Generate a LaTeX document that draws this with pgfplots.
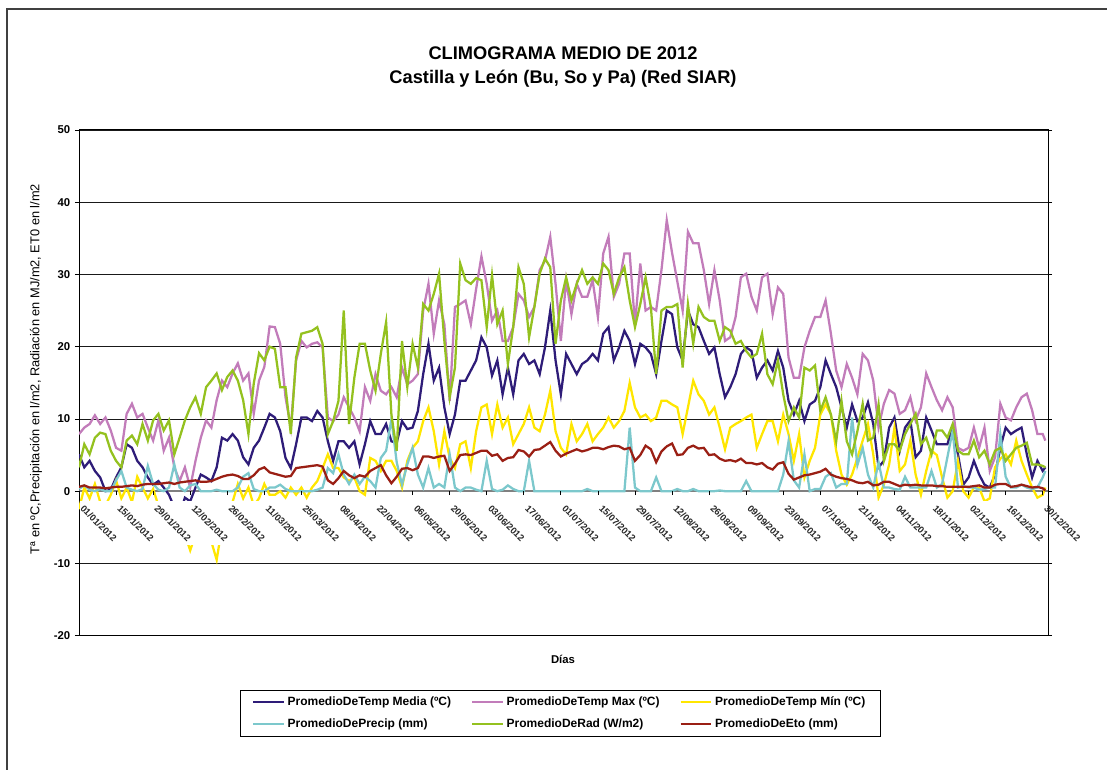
\documentclass[border=0pt]{standalone}
\usepackage{fontspec}
\setmainfont{Liberation Sans}
\usepackage{pgfplots}
\pgfplotsset{compat=1.18}
\usepackage{pgfplotstable}
\definecolor{cmed}{HTML}{2E1C78}
\definecolor{cmax}{HTML}{C27CBA}
\definecolor{cmin}{HTML}{FFE600}
\definecolor{cpre}{HTML}{7CC8CC}
\definecolor{crad}{HTML}{94C11F}
\definecolor{ceto}{HTML}{9A1F14}

% day of 2012 (0 = 01/01), read every second day off the original chart
\pgfplotstableread{
d tmed tmax tmin prec rad eto
0 5.1 7.9 -2.5 0.3 3.3 0.6
2 3.3 8.8 0.5 0.8 6.5 0.8
4 4.2 9.3 -1.0 0.2 5.1 0.5
6 2.8 10.5 1.0 0 7.4 0.5
8 1.9 9.3 -1.5 0.3 8.1 0.5
10 0.0 10.2 -2.0 0 7.9 0.4
12 0.2 8.4 -0.5 0 5.6 0.5
14 1.9 6.0 1.5 1.5 4.2 0.6
16 3.3 5.6 -1.0 2.8 3.3 0.6
18 6.5 10.7 0.5 0.5 7.0 0.7
20 6.0 12.1 -1.5 0.2 7.7 0.8
22 4.2 10.2 2.0 0 6.5 0.7
24 3.3 10.7 0.5 0.3 9.3 0.9
26 1.9 8.8 -1.0 3.5 7.0 1.0
28 0.9 7.0 0.3 1.0 9.8 1.0
30 1.4 9.8 -2.0 0.2 10.7 1.0
32 0.5 5.6 -3.0 0 8.4 1.1
34 -0.5 7.4 -5.0 0.5 9.8 1.2
36 -2.3 3.3 -6.0 3.7 5.1 1.0
38 -3.3 1.4 -7.0 0.5 7.4 1.2
40 -0.9 3.3 -6.0 0 9.8 1.3
42 -1.4 0.5 -8.2 0.8 11.6 1.4
44 0.5 4.2 -6.0 1.0 13.0 1.5
46 2.3 7.4 -4.0 0 10.7 1.3
48 1.9 9.8 -5.0 0 14.4 1.3
50 1.4 8.8 -7.0 0 15.3 1.4
52 3.3 12.6 -9.5 0.2 16.3 1.7
54 7.4 15.3 -5.0 0 14.0 2.0
56 7.0 14.4 -3.0 0 15.8 2.2
58 7.9 16.3 -1.5 0 16.7 2.3
60 7.0 17.7 1.0 0.5 15.3 2.1
62 4.7 15.3 -1.0 2.0 12.6 1.7
64 3.7 16.3 0.5 2.5 7.9 1.7
66 6.0 10.7 -2.0 0.3 14.9 2.2
68 7.0 15.3 -1.0 0 19.1 3.0
70 8.8 17.2 1.0 0 18.1 3.3
72 10.7 22.8 -0.5 0.5 20.0 2.6
74 10.2 22.7 -0.5 0.5 19.7 2.4
76 8.3 20.4 0 0.9 14.4 2.2
78 4.6 13.0 -0.9 0.3 14.4 2.0
80 3.2 8.8 0.5 0 7.9 2.1
82 6.5 18.1 -0.5 0 18.5 3.2
84 10.2 20.8 0.5 0 21.8 3.3
86 10.2 19.9 -0.9 0 22.0 3.4
88 9.7 20.4 0.5 0 22.2 3.5
90 11.1 20.6 1.4 0.2 22.7 3.6
92 10.2 19.9 3.2 0.5 20.4 3.4
94 6.9 10.2 5.1 3.2 7.9 1.5
96 4.2 9.7 3.2 2.5 9.7 1.0
98 6.9 10.6 3.2 5.1 12.5 1.8
100 6.9 13.0 1.9 2.3 25.0 2.8
102 6.0 11.6 1.4 1.0 9.3 2.2
104 6.9 10.2 1.9 2.3 15.7 1.8
106 3.7 8.3 0 1.0 20.4 2.2
108 6.5 14.4 -0.5 2.0 20.4 2.0
110 9.7 12.5 4.6 1.4 16.7 2.8
112 7.9 16.2 4.2 0.5 13.9 3.2
114 7.9 13.9 2.8 4.6 19.0 3.6
116 9.3 13.4 4.2 5.6 23.4 2.2
118 6.9 14.4 4.2 10.0 10.6 1.1
120 6.7 13.0 2.8 4.0 5.6 2.0
122 9.7 17.1 0.5 0.9 20.8 3.1
124 8.6 14.8 4.2 3.7 14.4 3.2
126 8.8 15.3 6.0 6.0 20.4 2.9
128 11.1 16.2 6.9 2.3 17.1 3.2
130 16.2 25.0 9.7 0.5 25.9 4.8
132 20.4 28.7 11.6 3.2 25.0 4.8
134 15.3 21.8 8.3 0.5 27.3 4.6
136 17.1 26.4 3.7 1.0 30.1 4.8
138 11.6 23.1 8.3 0.5 20.8 4.9
140 7.9 12.5 4.6 5.1 13.0 2.8
142 10.6 25.5 3.2 0.5 17.1 3.8
144 15.3 25.9 6.5 0 31.5 5.0
146 15.3 26.4 6.9 0.5 29.2 5.1
148 16.7 23.1 3.2 0.5 28.7 5.0
150 18.1 28.0 8.3 0.2 29.5 5.3
152 21.3 32.5 11.6 0 29.2 5.6
154 19.9 28.7 12.0 4.2 22.7 5.6
156 16.0 23.6 7.9 0.3 29.9 4.9
158 18.1 25.0 12.0 0 23.1 5.1
160 13.4 20.8 8.8 0.2 25.0 4.2
162 17.1 20.8 10.2 0.8 17.6 4.6
164 13.4 22.7 6.5 0.3 22.7 4.7
166 18.1 27.3 7.9 0 31.0 5.7
168 19.0 26.4 9.3 0 28.7 5.5
170 17.6 24.1 11.6 4.2 21.3 4.8
172 18.1 25.5 8.8 0 25.5 5.7
174 16.2 30.6 8.3 0 30.1 5.8
176 19.9 31.9 10.6 0 32.2 6.3
178 25.0 35.2 13.9 0 31.0 6.8
180 18.1 28.7 8.3 0 20.4 5.6
182 13.4 20.8 6.0 0 26.4 4.8
184 19.0 29.2 5.1 0 29.6 5.2
186 17.6 24.5 9.3 0 26.4 5.5
188 16.2 28.7 6.9 0 28.7 5.8
190 17.6 26.9 7.9 0 30.6 5.5
192 18.1 26.9 9.3 0.3 28.7 5.7
194 19.0 29.2 6.9 0 29.6 6.0
196 18.1 24.1 7.9 0 28.7 6.0
198 21.8 32.9 8.8 0 31.5 5.8
200 22.7 35.2 10.2 0 30.6 6.1
202 18.1 26.9 8.8 0 27.3 6.3
204 19.9 28.7 9.7 0 29.6 6.2
206 22.2 32.9 11.1 0 31.0 5.8
208 20.8 32.9 15.0 8.8 26.4 6.0
210 17.6 23.1 11.6 0.5 22.7 4.2
212 20.4 31.5 10.2 0 25.9 5.0
214 19.9 25.0 10.6 0 29.6 6.3
216 19.0 25.5 9.7 0 25.5 5.8
218 16.2 25.0 10.2 1.9 16.2 4.0
220 20.8 30.6 12.5 0 25.0 5.5
222 25.0 37.5 12.5 0 25.5 6.2
224 24.5 33.0 12.0 0 25.5 6.6
226 19.9 29.0 11.6 0.3 25.9 5.0
228 18.1 25.0 7.9 0 17.1 5.1
230 25.0 35.9 11.6 0 25.9 6.0
232 23.1 34.3 15.3 0.3 20.4 6.3
234 22.7 34.3 13.4 0 25.5 5.9
236 20.8 30.6 12.5 0 24.1 6.0
238 19.0 25.9 10.6 0 23.6 5.0
240 19.9 30.6 11.6 0 23.6 5.1
242 16.2 26.4 8.8 0.1 20.8 4.5
244 13.0 20.8 5.8 0 22.7 4.2
246 14.4 21.3 8.8 0 22.2 4.3
248 16.2 24.1 9.3 0 20.4 4.1
250 19.0 29.6 9.7 0 20.8 4.5
252 19.9 30.1 10.2 1.4 19.4 3.9
254 19.4 26.9 10.6 0 18.5 3.9
256 15.7 25.0 6.0 0 19.0 3.7
258 17.1 29.6 7.9 0 21.8 3.9
260 18.1 30.1 9.7 0 16.2 3.3
262 16.7 24.5 9.7 0 14.8 3.0
264 19.4 28.2 6.9 0 18.1 3.8
266 17.1 27.3 10.6 2.3 13.4 4.0
268 12.5 18.5 7.9 6.9 9.7 2.4
270 10.6 15.7 4.2 1.5 11.6 1.6
272 12.5 15.7 7.9 0.5 10.2 1.9
274 9.7 19.9 1.9 5.1 17.1 2.2
276 12.0 22.2 4.2 0 16.7 2.3
278 12.5 24.1 6.0 0.3 17.4 2.5
280 14.4 24.1 10.6 0.3 11.1 2.7
282 18.1 26.4 12.0 2.0 13.0 3.1
284 16.2 21.8 10.6 2.5 10.6 2.3
286 14.4 16.7 5.6 0.5 6.9 2.0
288 11.6 14.4 2.3 1.0 12.5 1.8
290 8.8 17.6 0.9 1.0 6.9 1.7
292 12.0 15.7 2.3 10.2 5.1 1.5
294 9.7 13.4 4.6 3.6 8.3 1.2
296 10.2 19.0 7.0 6.0 12.1 1.1
298 12.3 18.1 9.3 2.3 7.0 1.3
300 9.3 15.3 5.1 0.5 7.4 0.8
302 3.3 8.8 -0.9 4.0 12.0 0.9
304 4.2 12.1 0.9 0.5 4.2 1.3
306 8.8 14.0 3.7 0.5 6.5 1.3
308 10.2 13.5 8.8 0.3 6.5 1.0
310 5.6 10.7 2.8 0.2 5.6 0.7
312 8.8 11.2 3.7 2.0 7.9 0.9
314 9.8 13.0 7.0 0.5 9.3 0.8
316 4.7 9.8 2.3 0.5 10.7 0.9
318 5.6 11.6 -0.5 0.5 6.5 0.8
320 10.2 16.3 2.8 0.5 7.4 0.8
322 8.4 14.4 5.6 2.8 5.1 0.8
324 6.5 12.6 5.0 0.5 8.4 0.7
326 6.5 11.2 1.9 1.0 8.4 0.7
328 6.5 13.0 -0.9 4.7 7.4 0.6
330 8.8 11.6 0 8.4 9.3 0.6
332 5.1 6.0 4.2 0.5 5.6 0.6
334 0.9 5.6 0 0.7 5.1 0.6
336 1.9 6.0 -0.9 0.5 5.1 0.6
338 4.2 8.8 0.5 0.5 7.0 0.7
340 2.3 6.0 0.5 0.2 4.7 0.8
342 0.9 8.8 -1.4 0.3 5.6 0.5
344 0.5 2.8 -1.0 0.5 3.7 0.5
346 2.3 4.7 3.3 0.5 5.6 0.9
348 6.0 12.1 4.5 7.9 6.0 1.0
350 8.8 10.2 5.1 2.0 4.2 1.0
352 7.9 9.8 3.7 0.5 5.1 0.6
354 8.4 11.6 7.0 0.5 6.0 0.7
356 8.8 13.0 4.2 0.9 6.3 0.9
358 5.1 13.5 2.3 0.5 6.7 0.7
360 1.9 11.2 0.5 0.3 3.7 0.5
362 4.2 7.9 -0.9 0.5 3.7 0.6
364 2.8 7.9 -0.5 1.9 3.5 0.4
365 3.3 7.0 0.5 2.8 3.3 0.1
}\clima

\begin{document}
\begin{tikzpicture}
\useasboundingbox (0pt,0pt) rectangle (830.25pt,576.75pt);
\draw[black!75, line width=1pt] (5.25pt,-2pt) -- (5.25pt,570pt) -- (834pt,570pt);

\node[font=\bfseries\fontsize{13.7}{16}\selectfont] at (422.25pt,537pt) {CLIMOGRAMA MEDIO DE 2012};
\node[font=\bfseries\fontsize{13.7}{16}\selectfont] at (422.25pt,517.5pt) {Castilla y León (Bu, So y Pa) (Red SIAR)};
\node[rotate=90, font=\fontsize{9.6}{11}\selectfont] at (27pt,300pt)
  {Tª en ºC,Precipitación en l/m2, Radiación en MJ/m2, ET0 en l/m2};
\node[font=\bfseries\fontsize{8.5}{10}\selectfont] at (422.25pt,82.5pt) {Días};

\begin{axis}[
  at={(59.25pt,100pt)}, anchor=south west,
  scale only axis, width=726.75pt, height=379.3pt,
  xmin=0, xmax=366, ymin=-20, ymax=50,
  xtick=\empty,
  ytick={-20,-10,10,20,30,40,50},
  extra y ticks={0}, extra y tick labels={0},
  extra y tick style={grid style={draw=black!50, line width=1.8pt}},
  ymajorgrids, grid style={black!90, line width=0.6pt},
  axis line style={black, line width=0.75pt},
  tick align=outside, major tick length=3pt,
  ytick style={black, line width=0.6pt},
  yticklabel style={font=\bfseries\fontsize{8.5}{10}\selectfont},
  /pgf/number format/assume math mode=true,
  every axis plot/.append style={line width=1.7pt, mark=none},
  legend columns=3,
  legend cell align=left,
  legend image code/.code={\draw[#1] (0pt,0pt) -- (23pt,0pt);},
  legend style={at={(0.4964,-0.1529)}, anchor=center, draw=black, line width=0.6pt,
    font=\bfseries\fontsize{9}{11}\selectfont, row sep=4.5pt,
    inner xsep=9pt, inner ysep=3pt,
    /tikz/every even column/.append style={column sep=13pt}},
]
\addplot[cmed] table[x=d, y=tmed] {\clima};
\addlegendentry{PromedioDeTemp Media (ºC)}
\addplot[cmax] table[x=d, y=tmax] {\clima};
\addlegendentry{PromedioDeTemp Max (ºC)}
\addplot[cmin] table[x=d, y=tmin] {\clima};
\addlegendentry{PromedioDeTemp Mín (ºC)}
\addplot[cpre] table[x=d, y=prec] {\clima};
\addlegendentry{PromedioDePrecip (mm)}
\addplot[crad] table[x=d, y=rad] {\clima};
\addlegendentry{PromedioDeRad (W/m2)}
\addplot[ceto] table[x=d, y=eto] {\clima};
\addlegendentry{PromedioDeEto (mm)}
% the date labels hide the lines just under the zero line
\fill[white] (axis cs:0.4,-1.3) rectangle (axis cs:365.6,-7.4);
\end{axis}

\begin{axis}[
  at={(59.25pt,100pt)}, anchor=south west,
  scale only axis, width=726.75pt, height=379.3pt,
  xmin=0, xmax=366, ymin=-20, ymax=50,
  axis x line=middle, axis y line=none,
  x axis line style={draw=none, -},
  hide obscured x ticks=false,
  xtick={0,14,...,364},
  xticklabels={01/01/2012,15/01/2012,29/01/2012,12/02/2012,26/02/2012,11/03/2012,
    25/03/2012,08/04/2012,22/04/2012,06/05/2012,20/05/2012,03/06/2012,17/06/2012,
    01/07/2012,15/07/2012,29/07/2012,12/08/2012,26/08/2012,09/09/2012,23/09/2012,
    07/10/2012,21/10/2012,04/11/2012,18/11/2012,02/12/2012,16/12/2012,30/12/2012},
  tick align=outside, major tick length=3pt,
  xtick style={black, line width=0.6pt},
  xticklabel style={font=\bfseries\fontsize{7}{8}\selectfont, text=black!85,
    xshift=1.5pt, yshift=-8pt, rotate=-45, anchor=west, inner sep=1pt},
]
\end{axis}
\end{tikzpicture}
\end{document}
